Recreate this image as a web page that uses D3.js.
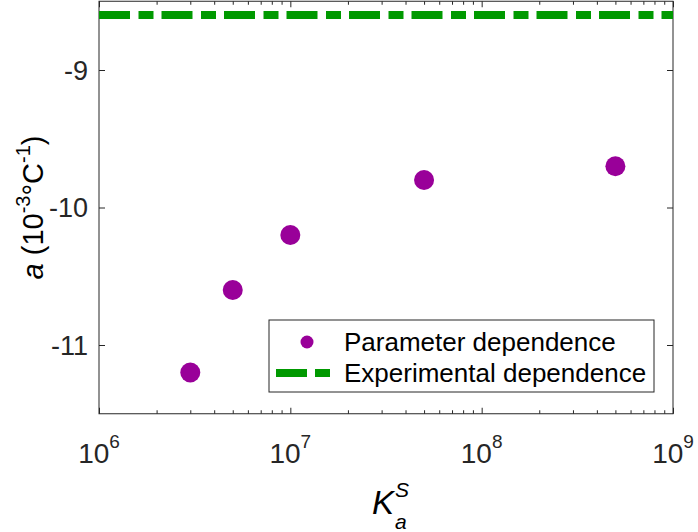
<!DOCTYPE html>
<html>
<head>
<meta charset="utf-8">
<script src="https://cdn.jsdelivr.net/npm/d3@7"></script>
<style>
  body { margin: 0; background: #fff; }
  text { font-family: "Liberation Sans", Arial, sans-serif; }
</style>
</head>
<body>
<svg id="chart" width="698" height="532"></svg>
<script>
// data
const kValues = [3e6, 5e6, 1e7, 5e7, 5e8];
const aValues = [-11.2, -10.6, -10.2, -9.8, -9.7];
const experimentalA = -8.6;
const xDecades = [6, 7, 8, 9];
const yTicks = [-11, -10, -9];
const legendLabels = ["Parameter dependence", "Experimental dependence"];

const purple = "#990099";
const green = "#009900";
const axisColor = "#262626";

const margin = { left: 99, right: 25, top: 1.25, bottom: 118.25 };
const width = 698 - margin.left - margin.right;
const height = 532 - margin.top - margin.bottom;

const svg = d3.select("#chart");
const g = svg.append("g").attr("transform", `translate(${margin.left},${margin.top})`);

const x = d3.scaleLog().domain([1e6, 1e9]).range([0, width]);
const y = d3.scaleLinear().domain([-11.5, -8.5]).range([height, 0]);

// clip for the plot area
svg.append("defs").append("clipPath").attr("id", "plotClip")
  .append("rect").attr("width", width).attr("height", height);

// minor + major ticks (inward) on bottom and top
const minorTicks = [];
for (let d = 6; d < 9; d++) for (let m = 2; m <= 9; m++) minorTicks.push(m * Math.pow(10, d));
const majorTicks = xDecades.map(d => Math.pow(10, d));

function xTicks(axisFn, ty, vals, size) {
  const a = g.append("g").attr("transform", `translate(0,${ty})`)
    .call(axisFn(x).tickValues(vals).tickSize(size).tickFormat(""));
  a.select(".domain").remove();
  a.selectAll("line").attr("stroke", axisColor);
}
xTicks(d3.axisBottom, height, minorTicks, -3.5);
xTicks(d3.axisBottom, height, majorTicks, -6);
xTicks(d3.axisTop, 0, minorTicks, -3.5);
xTicks(d3.axisTop, 0, majorTicks, -6);

function yAxisTicks(axisFn, tx) {
  const a = g.append("g").attr("transform", `translate(${tx},0)`)
    .call(axisFn(y).tickValues(yTicks).tickSize(-6).tickFormat(""));
  a.select(".domain").remove();
  a.selectAll("line").attr("stroke", axisColor);
}
yAxisTicks(d3.axisLeft, 0);
yAxisTicks(d3.axisRight, width);

// frame
g.append("rect").attr("width", width).attr("height", height)
  .attr("fill", "none").attr("stroke", axisColor).attr("stroke-width", 1);

// y tick labels
g.selectAll(".ylab").data(yTicks).enter().append("text")
  .attr("x", -11).attr("y", d => y(d)).attr("dy", "0.36em")
  .attr("text-anchor", "end").attr("font-size", 27).attr("fill", axisColor)
  .text(d => d3.format("d")(d).replace("−", "-"));

// x tick labels 10^n
const xl = g.selectAll(".xlab").data(xDecades).enter().append("text")
  .attr("x", d => x(Math.pow(10, d))).attr("y", height + 49)
  .attr("text-anchor", "middle").attr("fill", axisColor);
xl.append("tspan").attr("font-size", 28).text("10");
xl.append("tspan").attr("font-size", 19).attr("dy", -15).text(d => d);

// experimental line
g.append("line").attr("clip-path", "url(#plotClip)")
  .attr("x1", 0).attr("x2", width)
  .attr("y1", y(experimentalA)).attr("y2", y(experimentalA))
  .attr("stroke", green).attr("stroke-width", 8)
  .attr("stroke-dasharray", "31,8.5,15,8");

// parameter points
g.selectAll(".pt").data(kValues).enter().append("circle")
  .attr("cx", d => x(d)).attr("cy", (d, i) => y(aValues[i]))
  .attr("r", 10).attr("fill", purple);

// legend
const lg = svg.append("g").attr("transform", "translate(269,320)");
lg.append("rect").attr("width", 385).attr("height", 72)
  .attr("fill", "#fff").attr("stroke", axisColor).attr("stroke-width", 1);
lg.append("circle").attr("cx", 38).attr("cy", 22).attr("r", 6.5).attr("fill", purple);
lg.append("line").attr("x1", 7).attr("x2", 61).attr("y1", 53).attr("y2", 53)
  .attr("stroke", green).attr("stroke-width", 8).attr("stroke-dasharray", "31,8,15,8");
lg.selectAll(".lt").data(legendLabels).enter().append("text")
  .attr("x", 75).attr("y", (d, i) => 22 + i * 31).attr("dy", "0.36em")
  .attr("font-size", 26).attr("fill", "#000").text(d => d);

// y axis label
const yl = svg.append("text")
  .attr("transform", `translate(43,${margin.top + height / 2}) rotate(-90)`)
  .attr("text-anchor", "middle").attr("font-size", 29).attr("fill", "#000");
yl.append("tspan").attr("font-style", "italic").text("a");
yl.append("tspan").text(" (10");
yl.append("tspan").attr("font-size", 20).attr("dy", -13).text("-3");
yl.append("tspan").attr("dy", 13).text("°C");
yl.append("tspan").attr("font-size", 20).attr("dy", -13).text("-1");
yl.append("tspan").attr("dy", 13).text(")");

// x axis label K_a^S
const xlab = svg.append("text").attr("x", 372).attr("y", 514)
  .attr("font-size", 33).attr("font-style", "italic").attr("fill", "#000");
xlab.append("tspan").text("K");
xlab.append("tspan").attr("x", 395).attr("y", 497).attr("font-size", 21).text("S");
xlab.append("tspan").attr("x", 395).attr("y", 529).attr("font-size", 21).text("a");
</script>
</body>
</html>
